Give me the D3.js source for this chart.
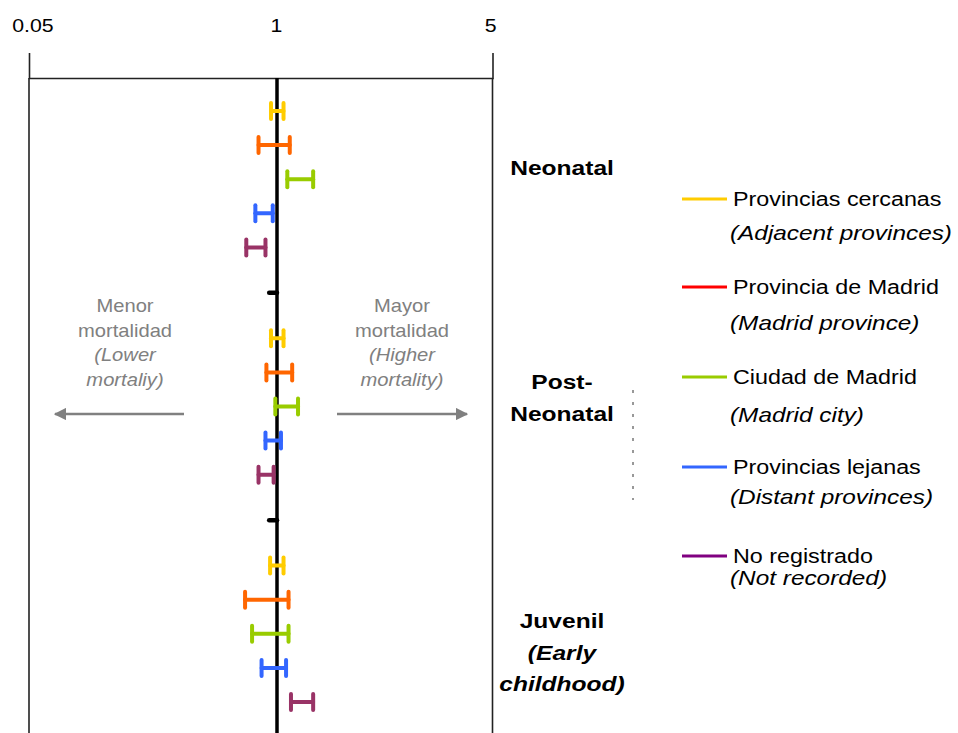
<!DOCTYPE html>
<html>
<head>
<meta charset="utf-8">
<script src="https://cdn.jsdelivr.net/npm/d3@7"></script>
<style>
  body { margin: 0; background: #fff; }
  svg { display: block; font-family: Arial, "Liberation Sans", sans-serif; }
</style>
</head>
<body>
<svg width="958" height="733"></svg>
<script>
// ---- data ----
const groups = ['Neonatal', 'Post-Neonatal', 'Juvenil'];
const series = ['Provincias cercanas', 'Provincia de Madrid', 'Ciudad de Madrid', 'Provincias lejanas', 'No registrado'];
const seriesEn = ['(Adjacent provinces)', '(Madrid province)', '(Madrid city)', '(Distant provinces)', '(Not recorded)'];
const barColors = ['#ffcc00', '#ff6600', '#99cc00', '#3366ff', '#993366'];
const legendColors = ['#ffcc00', '#ff0000', '#99cc00', '#3366ff', '#800080'];

// odds ratio intervals, one value per series
const neonatalLow = [0.93, 0.80, 1.08, 0.77, 0.69];
const neonatalHigh = [1.05, 1.10, 1.31, 0.95, 0.87];
const postLow = [0.93, 0.88, 0.98, 0.87, 0.80];
const postHigh = [1.05, 1.12, 1.17, 1.03, 0.96];
const juvenilLow = [0.92, 0.68, 0.74, 0.83, 1.11];
const juvenilHigh = [1.05, 1.09, 1.09, 1.07, 1.31];
const referenceLow = 0.91, referenceHigh = 1;

const tickValues = [0.05, 1, 5];

const svg = d3.select('svg'),
    width = +svg.attr('width'),
    height = +svg.attr('height');

// the source picture has horizontally widened lettering
function stretch(sel, k) {
    sel.each(function () {
        const t = d3.select(this);
        const x = +t.attr('x') || 0, y = +t.attr('y') || 0;
        t.attr('x', 0).attr('y', 0)
            .attr('transform', `translate(${x},${y}) scale(${k},1)`);
    });
}

// ---- scales ----
const x = d3.scaleLog()
    .domain([0.05, 1, 5])
    .range([29, 277, 492.5]);

// slots: 3 units between rows, 4 around the reference stub, 20 per group
const y = d3.scaleLinear().domain([0, 52]).range([111, 702]);

const rows = [];
const lows = [neonatalLow, postLow, juvenilLow];
const highs = [neonatalHigh, postHigh, juvenilHigh];
groups.forEach((g, gi) => {
    series.forEach((s, i) => {
        rows.push({group: g, series: s, color: barColors[i], lo: lows[gi][i], hi: highs[gi][i], slot: gi * 20 + i * 3});
    });
});
const refs = [0, 1].map(gi => ({lo: referenceLow, hi: referenceHigh, slot: gi * 20 + 16}));

// ---- frame + axis ----
const frame = svg.append('g').attr('class', 'frame');
frame.selectAll('line.side')
    .data([0.05, 5])
    .enter().append('line')
    .attr('class', 'side')
    .attr('x1', d => x(d)).attr('x2', d => x(d))
    .attr('y1', 78).attr('y2', height)
    .attr('stroke', '#222').attr('stroke-width', 1.6);

const axis = svg.append('g')
    .attr('transform', 'translate(0,78)')
    .call(d3.axisTop(x)
        .tickValues(tickValues)
        .tickFormat(d => d)
        .tickSizeInner(0)
        .tickSizeOuter(25)
        .tickPadding(46));
axis.select('.domain').attr('stroke', '#222').attr('stroke-width', 1.6);
axis.selectAll('.tick line').remove();
axis.selectAll('.tick text')
    .attr('font-size', 19)
    .attr('font-family', 'Arial, "Liberation Sans", sans-serif')
    .attr('fill', '#000')
    .attr('dx', (d, i) => [3, -1, -2][i])
    .call(stretch, 1.12);

// reference line at 1
svg.append('line')
    .attr('x1', x(1)).attr('x2', x(1))
    .attr('y1', 78).attr('y2', height)
    .attr('stroke', '#000').attr('stroke-width', 3.5);

// ---- error bars ----
const bars = svg.append('g').attr('class', 'bars')
    .selectAll('g')
    .data(rows)
    .enter().append('g')
    .attr('stroke', d => d.color)
    .attr('stroke-width', 4)
    .attr('stroke-linecap', 'round');
bars.append('line')
    .attr('x1', d => x(d.lo)).attr('x2', d => x(d.hi))
    .attr('y1', d => y(d.slot)).attr('y2', d => y(d.slot));
bars.append('line')
    .attr('x1', d => x(d.lo)).attr('x2', d => x(d.lo))
    .attr('y1', d => y(d.slot) - 8).attr('y2', d => y(d.slot) + 8);
bars.append('line')
    .attr('x1', d => x(d.hi)).attr('x2', d => x(d.hi))
    .attr('y1', d => y(d.slot) - 8).attr('y2', d => y(d.slot) + 8);

svg.append('g').selectAll('line')
    .data(refs)
    .enter().append('line')
    .attr('x1', d => x(d.lo)).attr('x2', d => x(d.hi))
    .attr('y1', d => y(d.slot)).attr('y2', d => y(d.slot))
    .attr('stroke', '#000').attr('stroke-width', 4.5)
    .attr('stroke-linecap', 'round');

// ---- annotations ----
const grey = '#808080';
const notes = [
    {cx: 125, lines: ['Menor', 'mortalidad', '(Lower', 'mortaliy)']},
    {cx: 402, lines: ['Mayor', 'mortalidad', '(Higher', 'mortality)']}
];
notes.forEach(n => {
    svg.append('g').selectAll('text')
        .data(n.lines)
        .enter().append('text')
        .attr('x', n.cx)
        .attr('y', (d, i) => 312 + i * 24.5)
        .attr('text-anchor', 'middle')
        .attr('font-size', 18)
        .attr('font-style', (d, i) => i > 1 ? 'italic' : 'normal')
        .attr('fill', grey)
        .text(d => d)
        .call(stretch, 1.12);
});

svg.append('defs').append('marker')
    .attr('id', 'head')
    .attr('viewBox', '0 0 10 10')
    .attr('refX', 9).attr('refY', 5)
    .attr('markerWidth', 5).attr('markerHeight', 5)
    .attr('markerUnits', 'strokeWidth')
    .attr('orient', 'auto')
    .append('path')
    .attr('d', 'M0,0L10,5L0,10Z')
    .attr('fill', grey);

[[184, 55], [337, 467]].forEach(([a, b]) => {
    svg.append('line')
        .attr('x1', a).attr('x2', b)
        .attr('y1', 414).attr('y2', 414)
        .attr('stroke', grey).attr('stroke-width', 2.5)
        .attr('marker-end', 'url(#head)');
});

// ---- group labels ----
const groupLabels = [
    {lines: ['Neonatal'], italic: [false], y0: 175},
    {lines: ['Post-', 'Neonatal'], italic: [false, false], y0: 389},
    {lines: ['Juvenil', '(Early', 'childhood)'], italic: [false, true, true], y0: 628}
];
groupLabels.forEach(gl => {
    svg.append('g').selectAll('text')
        .data(gl.lines)
        .enter().append('text')
        .attr('x', 562)
        .attr('y', (d, i) => gl.y0 + i * 31.5)
        .attr('text-anchor', 'middle')
        .attr('font-size', 21)
        .attr('font-weight', 'bold')
        .attr('font-style', (d, i) => gl.italic[i] ? 'italic' : 'normal')
        .text(d => d)
        .call(stretch, 1.17);
});

svg.append('line')
    .attr('x1', 633).attr('x2', 633)
    .attr('y1', 390).attr('y2', 500)
    .attr('stroke', '#333').attr('stroke-width', 1)
    .attr('stroke-dasharray', '3,9');

// ---- legend ----
const legendY = [199, 287, 377, 467, 556];
const legendSub = [41, 43, 45, 37, 29];
const legend = svg.append('g').attr('class', 'legend')
    .selectAll('g')
    .data(series)
    .enter().append('g')
    .attr('transform', (d, i) => `translate(682,${legendY[i]})`);
legend.append('line')
    .attr('x1', 0).attr('x2', 45)
    .attr('stroke', (d, i) => legendColors[i])
    .attr('stroke-width', 3);
legend.append('text')
    .attr('x', 51).attr('y', 7)
    .attr('font-size', 21)
    .text(d => d)
    .call(stretch, 1.11);
legend.append('text')
    .attr('x', 48).attr('y', (d, i) => legendSub[i])
    .attr('font-size', 21)
    .attr('font-style', 'italic')
    .text((d, i) => seriesEn[i])
    .call(stretch, 1.16);
</script>
</body>
</html>
